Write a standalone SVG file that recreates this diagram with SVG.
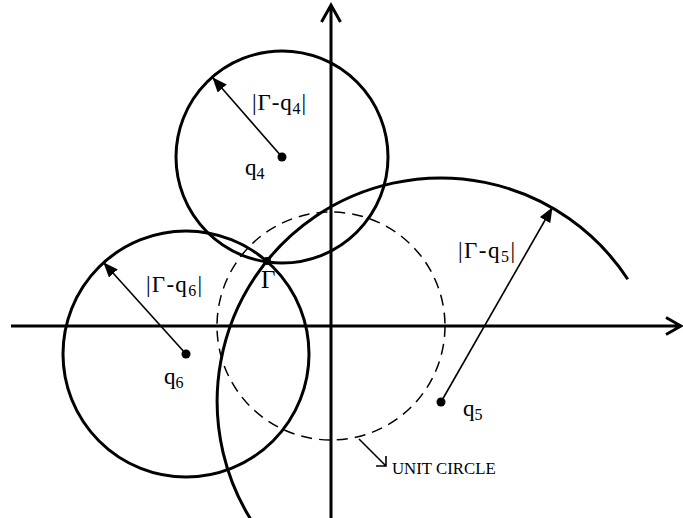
<svg xmlns="http://www.w3.org/2000/svg" width="683" height="518" viewBox="0 0 683 518">
<style>
.thick{fill:none;stroke:#000;stroke-width:3}
.axis{fill:none;stroke:#000;stroke-width:3}
.dash{fill:none;stroke:#000;stroke-width:1.5;stroke-dasharray:11 7}
.arr{fill:none;stroke:#000;stroke-width:1.6}
.dot{fill:#000}
text{font-family:"Liberation Serif","Times New Roman",serif;fill:#000;font-size:23px}
.sub{font-size:16px}
.small{font-size:16.8px}
</style>
<defs>
<marker id="tri" markerWidth="16" markerHeight="12" refX="14" refY="6" orient="auto" markerUnits="userSpaceOnUse">
<path d="M0,0 L15,6 L0,12 Z" fill="#000"/>
</marker>
</defs>
<g id="axes">
<path class="axis" d="M11,326 H681 M666,317.5 L681,326 L666,334.5"/>
<path class="axis" d="M331,518 V5 M321.5,22 L331,5 L340.5,22"/>
</g>
<g id="unit-circle">
<circle class="dash" cx="331" cy="326" r="114"/>
<path class="arr" d="M359,439 L386,466 M376,466 H386 V456"/>
<text class="small" x="392" y="474">UNIT CIRCLE</text>
</g>
<g id="circle-q4">
<circle class="thick" cx="282" cy="157" r="106"/>
<circle class="dot" cx="282" cy="157" r="4.5"/>
<text x="245" y="175">q<tspan class="sub" dy="4">4</tspan></text>
</g>
<g id="circle-q6">
<circle class="thick" cx="186" cy="354" r="123"/>
<circle class="dot" cx="186" cy="354" r="4.5"/>
<text x="164" y="384">q<tspan class="sub" dy="4">6</tspan></text>
</g>
<g id="circle-q5">
<path class="thick" d="M257.8,530 A223.5,223.5 0 1 1 627.8,279.3"/>
<circle class="dot" cx="441" cy="402" r="4.5"/>
<text x="463" y="416">q<tspan class="sub" dy="4">5</tspan></text>
</g>
<g id="gamma">
<circle class="dot" cx="267" cy="261" r="4"/>
<text x="261" y="288" style="font-size:25px">Γ</text>
</g>
<g id="connectors">
<line class="arr" x1="282" y1="157" x2="213" y2="78" marker-end="url(#tri)"/>
<line class="arr" x1="186" y1="354" x2="104" y2="263" marker-end="url(#tri)"/>
<line class="arr" x1="441" y1="402" x2="552" y2="208" marker-end="url(#tri)"/>
</g>
<g id="labels">
<text x="252" y="110" textLength="54">|Γ-q<tspan class="sub" dy="4">4</tspan><tspan dy="-4">|</tspan></text>
<text x="146" y="292" textLength="56">|Γ-q<tspan class="sub" dy="4">6</tspan><tspan dy="-4">|</tspan></text>
<text x="458" y="258" textLength="57">|Γ-q<tspan class="sub" dy="4">5</tspan><tspan dy="-4">|</tspan></text>
</g>
</svg>
